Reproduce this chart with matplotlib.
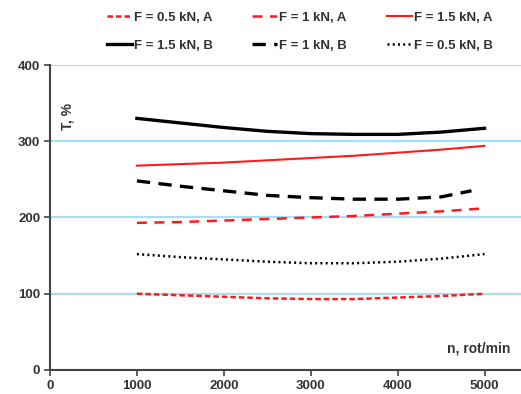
import numpy as np
import matplotlib.pyplot as plt

plt.rcParams['font.family'] = ['Liberation Sans', 'DejaVu Sans']

# -------------------------------------------------------
# DATA
# -------------------------------------------------------
n = [1000, 1500, 2000, 2500, 3000, 3500, 4000, 4500, 5000]
n_1kN_B = [1000, 1500, 2000, 2500, 3000, 3500, 4000, 4500, 4850]

t_05_A = [100, 98, 96, 94, 93, 93, 95, 97, 100]
t_1_A = [193, 194, 196, 198, 200, 202, 205, 208, 212]
t_15_A = [268, 270, 272, 275, 278, 281, 285, 289, 294]
t_15_B = [330, 324, 318, 313, 310, 309, 309, 312, 317]
t_1_B = [248, 241, 235, 229, 226, 224, 224, 227, 235]
t_05_B = [152, 148, 145, 142, 140, 140, 142, 146, 152]

x_ticks = [0, 1000, 2000, 3000, 4000, 5000]
y_ticks = [0, 100, 200, 300, 400]

# -------------------------------------------------------
# PLOT
# -------------------------------------------------------
fig = plt.figure(figsize=(5.21, 3.94), dpi=100)
ax = fig.add_axes([0.096, 0.061, 0.904, 0.774])

for yv in [100, 200, 300]:
    ax.axhline(yv, color="#a9ddf2", linewidth=1.6, zorder=0)
ax.axhline(400, color="#cfcfcf", linewidth=1.6, zorder=0)

red = "#ff1a1a"
h1, = ax.plot(n, t_05_A, color=red, linewidth=1.8, dashes=(2.2, 1.2), label="F = 0.5 kN, A")
h2, = ax.plot(n, t_1_A, color=red, linewidth=1.8, dashes=(4, 3), label="F = 1 kN, A")
h3, = ax.plot(n, t_15_A, color=red, linewidth=1.5, label="F = 1.5 kN, A")
h4, = ax.plot(n, t_15_B, color="black", linewidth=2.4, label="F = 1.5 kN, B")
h5, = ax.plot(n_1kN_B, t_1_B, color="black", linewidth=2.4, dashes=(4, 2.5), label="F = 1 kN, B")
h6, = ax.plot(n, t_05_B, color="black", linewidth=1.8, dashes=(0.8, 1.3), label="F = 0.5 kN, B")

ax.set_xlim(0, 5420)
ax.set_ylim(0, 400)
ax.set_xticks(x_ticks)
ax.set_yticks(y_ticks)

tick_color = "#333333"
for lab in ax.get_xticklabels() + ax.get_yticklabels():
    lab.set_fontweight("bold")
    lab.set_fontsize(9.5)
    lab.set_color(tick_color)

ax.spines["top"].set_visible(False)
ax.spines["right"].set_visible(False)
ax.spines["left"].set_color("#444444")
ax.spines["bottom"].set_color("#444444")
ax.spines["left"].set_linewidth(1.5)
ax.spines["bottom"].set_linewidth(1.5)
ax.tick_params(axis="both", direction="out", length=4, width=1.2, color="#444444", pad=3)

ax.text(200, 333, "T, %", rotation=90, ha="center", va="center",
        fontsize=10, fontweight="bold", color=tick_color)
ax.text(5300, 28, "n, rot/min", ha="right", va="center",
        fontsize=10, fontweight="bold", color=tick_color)

handles = [h1, h4, h2, h5, h3, h6]
fig.legend(handles=handles, labels=[h.get_label() for h in handles],
           ncol=3, loc="upper center", bbox_to_anchor=(0.575, 1.0),
           frameon=False, handlelength=1.9, handletextpad=0.15,
           columnspacing=3.0, labelspacing=1.15,
           prop={"weight": "bold", "size": 9.5}, labelcolor=tick_color)

plt.savefig("out.png", dpi=100)
plt.close()
